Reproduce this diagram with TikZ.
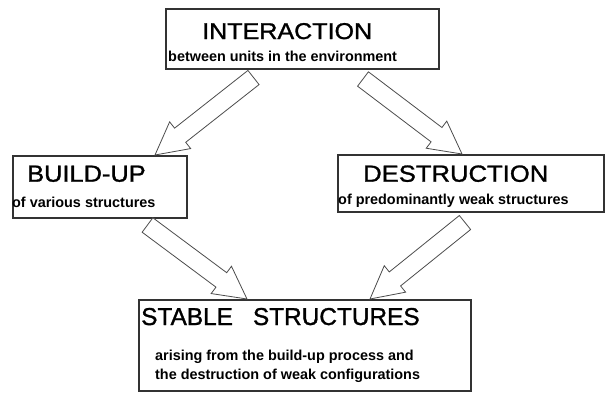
\documentclass[tikz,border=0pt]{standalone}
\usepackage{fontspec}
\setmainfont{Liberation Sans}
\newfontfamily\headfont{Liberation Sans}[FakeBold=1.2]
\usetikzlibrary{calc}
\tikzset{
  frame/.style={draw=black!80, line width=1.6pt, fill=white, inner sep=0pt, anchor=north west},
  label/.style={inner sep=0pt, anchor=base west, text=black},
  blockarrow/.style={draw=black!70, line width=0.8pt, fill=white, line join=miter},
}
\newcommand{\head}[3]{\scalebox{#2}[1]{\headfont\fontsize{#1}{#1}\selectfont #3}}
\newcommand{\sub}[1]{\fontsize{14.4}{14.4}\selectfont\bfseries #1}
\newcommand{\hollowarrow}[2]{%
  \coordinate (#1h) at ($(#2)!32pt!(#1)$);
  \draw[blockarrow] ($(#1)!9pt!90:(#2)$) -- ($(#1h)!9pt!90:(#2)$) -- ($(#1h)!17pt!90:(#2)$)
    -- (#2) -- ($(#1h)!17pt!-90:(#2)$) -- ($(#1h)!9pt!-90:(#2)$) -- ($(#1)!9pt!-90:(#2)$) -- cycle;
}
\begin{document}
\begin{tikzpicture}[x=1pt,y=-1pt]
\useasboundingbox[fill=white] (0,0) rectangle (605,392);
% boxes
\node[frame, minimum width=273pt, minimum height=60pt] (top) at (165,8) {};
\node[frame, minimum width=174pt, minimum height=62pt] (build) at (12,155) {};
\node[frame, minimum width=266pt, minimum height=57pt] (destr) at (337,154) {};
\node[frame, minimum width=332pt, minimum height=91pt] (stable) at (138,299) {};
% texts
\node[label] (t1) at (202,39) {\head{22.8}{1.1}{INTERACTION}};
\node[label] (t1s) at (168,61) {\sub{between units in the environment}};
\node[label] (t2) at (27,181.7) {\head{23.3}{1.09}{BUILD-UP}};
\node[label] (t2s) at (12,207) {\sub{of various structures}};
\node[label] (t3) at (363,181.7) {\head{23.3}{1.1}{DESTRUCTION}};
\node[label] (t3s) at (338,204) {\sub{of predominantly weak structures}};
\node[label] (t4) at (141,325) {\head{24.4}{1.0}{STABLE\hspace{20pt}STRUCTURES}};
\node[label] (t4a) at (155,360) {\sub{arising from the build-up process and}};
\node[label] (t4b) at (155,379) {\sub{the destruction of weak configurations}};
% arrow end points
\coordinate (a1s) at (253.5,77.5);
\coordinate (a1e) at (155,155);
\coordinate (a2s) at (363,79);
\coordinate (a2e) at (462,154);
\coordinate (a3s) at (147.5,225);
\coordinate (a3e) at (247,299);
\coordinate (a4s) at (465,222.5);
\coordinate (a4e) at (370,299);
\hollowarrow{a1s}{a1e}
\hollowarrow{a2s}{a2e}
\hollowarrow{a3s}{a3e}
\hollowarrow{a4s}{a4e}
\end{tikzpicture}
\end{document}
